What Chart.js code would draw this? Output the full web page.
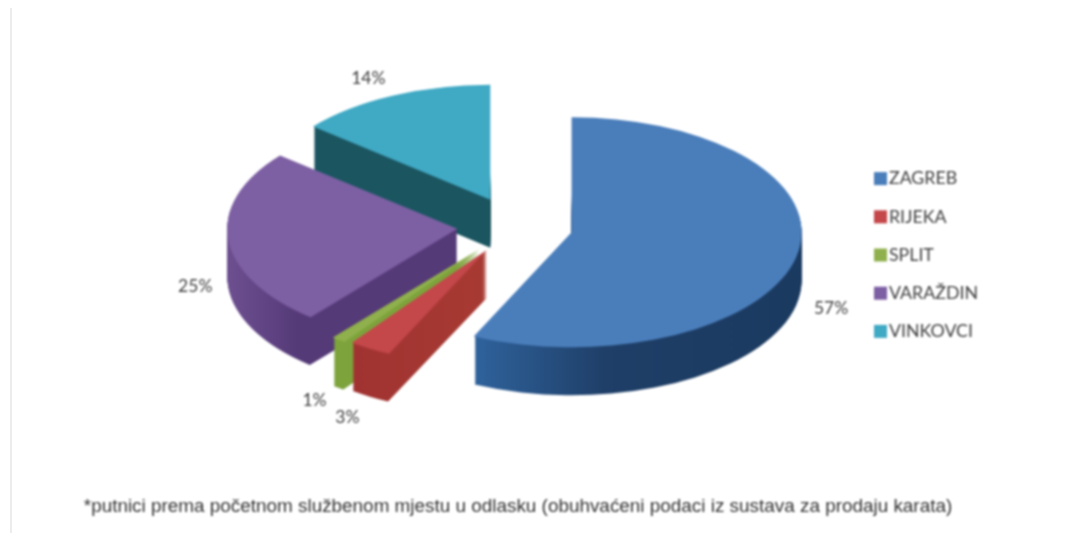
<!DOCTYPE html>
<html>
<head>
<meta charset="utf-8">
<script src="https://cdn.jsdelivr.net/npm/chart.js@4"></script>
<style>
html,body{margin:0;padding:0;background:#fff;overflow:hidden}
#wrap{position:relative;width:1074px;height:533px}
#rule{position:absolute;left:10px;top:8px;width:2px;height:525px;background:#ececec}
canvas{position:absolute;left:0;top:0;filter:blur(0.8px)}
</style>
</head>
<body>
<div id="wrap"><div id="rule"></div><canvas id="c" width="1074" height="533"></canvas></div>
<script>
const categories = ['ZAGREB','RIJEKA','SPLIT','VARAŽDIN','VINKOVCI'];
const shares = [57,3,1,25,14];
const topColors = ['#4a7ebb','#c4474a','#8fb04c','#7d5fa3','#40a9c4'];
const footnote = '*putnici prema početnom službenom mjestu u odlasku (obuhvaćeni podaci iz sustava za prodaju karata)';

// 3D look
const pieCentre = {x:515, y:226};
const squash = 0.5, depth = 48, radius = 230, wallTrim = 0.005;
const explode = [58,55,58,58,58];
const drawOrder = [4,3,2,1,0];
const wallStops = [
  [[0,'#2f629c'],[0.4,'#1f3f68'],[1,'#1b3a60']],
  [[0,'#a03331'],[1,'#a83a33']],
  [[0,'#7da33c'],[1,'#7da33c']],
  [[0,'#6d4f90'],[0.3,'#553a78'],[1,'#553a78']],
  [[0,'#1b5560'],[1,'#1b5560']]
];
const wallSpan = [[475,800],[350,490],[330,490],[228,460],[315,490]];
const labelNudge = [[35,51],[-21,67],[-24,61],[-33,47],[-24,-17]];
const legendSwatch = 13;

const pie3d = {
  id:'pie3d',
  beforeDatasetsDraw(chart){
    const ctx = chart.ctx, arcs = chart.getDatasetMeta(0).data;
    const dx = pieCentre.x - arcs[0].x, cy = arcs[0].y;
    for (const i of drawOrder) {
      const el = arcs[i], saved = el.options;
      const mid = (el.startAngle + el.endAngle)/2;
      const shiftX = Math.cos(mid)*explode[i], shiftY = Math.sin(mid)*explode[i];
      const place = d => {
        ctx.translate(dx, pieCentre.y + d);
        ctx.scale(1, squash);
        ctx.translate(shiftX, -cy + shiftY);
      };
      // side walls: the slice swept downwards, trimmed so that no wall colour peeks past the top face
      const a0 = el.startAngle, a1 = el.endAngle;
      el.startAngle = a0 + wallTrim; el.endAngle = a1 - wallTrim;
      for (let d = depth; d > 0; d--) {
        ctx.save(); place(d);
        const g = ctx.createLinearGradient(wallSpan[i][0]-dx-shiftX,0,wallSpan[i][1]-dx-shiftX,0);
        wallStops[i].forEach(s => g.addColorStop(s[0], s[1]));
        el.options = Object.assign({}, saved, {backgroundColor:g});
        el.draw(ctx); ctx.restore();
      }
      el.options = saved;
      el.startAngle = a0; el.endAngle = a1;
      ctx.save(); place(0); el.draw(ctx); ctx.restore();
    }
    // percentage labels
    ctx.save();
    ctx.font = '17.5px Lato';
    ctx.fillStyle = '#3f3f3f';
    ctx.textAlign = 'center';
    ctx.textBaseline = 'middle';
    arcs.forEach((el,i) => {
      const mid = (el.startAngle + el.endAngle)/2, r = radius + 58;
      ctx.fillText(shares[i] + '%',
        pieCentre.x + Math.cos(mid)*r + labelNudge[i][0],
        pieCentre.y + Math.sin(mid)*r*squash + labelNudge[i][1]);
    });
    ctx.restore();
    return false;
  },
  afterDraw(chart){
    const ctx = chart.ctx, boxes = chart.legend.legendHitBoxes, items = chart.legend.legendItems;
    boxes.forEach((b,i) => {
      ctx.fillStyle = items[i].fillStyle;
      ctx.fillRect(b.left, b.top + (b.height - legendSwatch)/2, legendSwatch, legendSwatch);
    });
  }
};

new Chart(document.getElementById('c'), {
  type:'pie',
  data:{labels:categories, datasets:[{data:shares, backgroundColor:topColors, borderWidth:0}]},
  options:{
    responsive:false, animation:false, events:[],
    radius:radius,
    layout:{padding:{left:48,right:86,top:0,bottom:23}},
    plugins:{
      tooltip:{enabled:false},
      legend:{position:'right', labels:{boxWidth:6, boxHeight:6, padding:20.4, color:'#404040', font:{family:'Lato', size:17.8}}},
      title:{display:true, position:'bottom', text:footnote, color:'#333', font:{family:'Liberation Sans', size:18.9, weight:'normal'}, padding:{top:0,bottom:-8}}
    }
  },
  plugins:[pie3d]
});
</script>
</body>
</html>
